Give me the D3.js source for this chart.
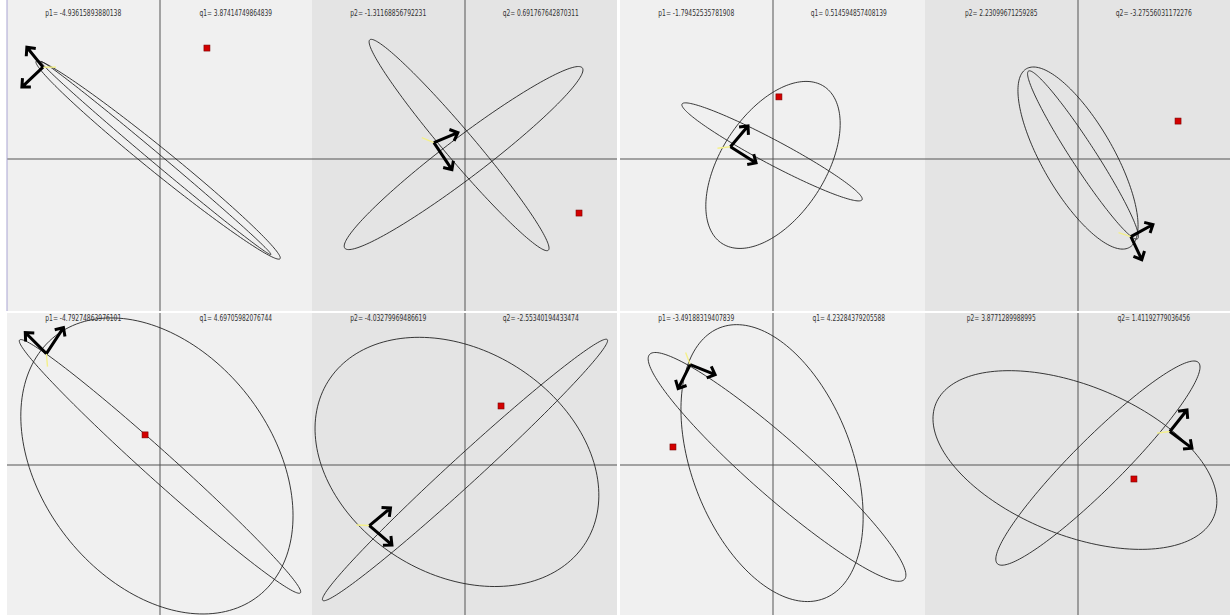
<!DOCTYPE html>
<html>
<head>
<meta charset="utf-8">
<script src="https://cdn.jsdelivr.net/npm/d3@7"></script>
<style>
	body{margin:0;background:#fff;}
	svg{display:block;}
	.axis-line{stroke:#555;stroke-width:1;}
	.ellipse{fill:none;stroke:#222;stroke-width:0.9;}
	.arrow{fill:none;stroke:#000;stroke-width:3;stroke-linejoin:miter;stroke-linecap:butt;}
	.label{font-family:"DejaVu Sans Condensed","Liberation Sans",sans-serif;font-size:8.5px;fill:#333;text-anchor:middle;}
	.target{fill:#d40000;stroke:#7a0000;stroke-width:0.6;}
</style>
</head>
<body>
<div id="plot"></div>
<script>
//values; the panel origin (p,q) is printed above each panel
var P_NAMES = ['p1','p2','p1','p2','p1','p2','p1','p2'],
	Q_NAMES = ['q1','q2','q1','q2','q1','q2','q1','q2'];
var pVals = [-4.93615893880138,-1.31168856792231,-1.79452535781908,2.23099671259285,-4.79274863976101,-4.03279969486619,-3.49188319407839,3.8771289988995],
	qVals = [3.87414749864839,0.691767642870311,0.514594857408139,-3.27556031172276,4.69705982076744,-2.55340194433474,4.23284379205588,1.41192779036456];

//red target point of each panel
var targets = [[1.98,4.68],[4.81,-2.28],[0.25,2.62],[4.22,1.60],[-0.63,1.27],[1.52,2.49],[-4.22,0.76],[2.36,-0.59]];

//the two arrow directions drawn from (p,q)
var arrowsU = [[-0.68,0.84],[1.01,0.42],[0.74,0.88],[0.93,0.51],[-0.89,0.89],[0.89,0.74],[1.05,-0.42],[0.72,0.91]],
	arrowsV = [[-0.89,-0.84],[0.76,-1.14],[1.08,-0.68],[0.46,-0.97],[0.72,1.10],[0.95,-0.82],[-0.51,-1.01],[0.93,-0.70]];

//ellipses: [cx, cy, semi-major, semi-minor, rotation deg]
var ellipses = [
	[[-0.08,-0.04,6.62,0.51,-39],[-0.17,0.04,6.33,0.21,-40]],
	[[-0.25,0.59,5.82,0.63,-49.7],[-0.06,0.04,6.29,0.84,37.2]],
	[[0,-0.25,3.95,2.2,57],[-0.04,0.30,4.30,0.51,-28]],
	[[0,0.04,4.35,1.5,-60],[0.21,0.17,4.22,0.51,-57]],
	[[-0.13,-0.04,6.96,4.85,-52],[0,-0.06,7.97,0.59,-42]],
	[[-0.34,0.13,6.41,4.73,-32],[0,-0.21,8.14,0.59,42.5]],
	[[-0.04,0.08,6.12,3.38,-69],[0.17,-0.08,7.17,1.2,-41.4]],
	[[-0.13,0.21,6.33,3.16,-22],[0.84,0.08,6.0,1.05,45]]
];

var DOMAIN = 6.45; //half-extent of each panel in model units

//Set up a drawing environment
var W = 1230, H = 615;
var colLeft = [7,312,620,925], colRight = [312,617,925,1230],
	rowTop = [0,313], rowBottom = [311,615],
	originX = [160,465,773,1078], originY = [159,465];

var svg = d3.select('#plot').append('svg')
	.attr('width',W)
	.attr('height',H);

svg.append('rect').attr('width',W).attr('height',H).attr('fill','#fff');

var defs = svg.append('defs');

d3.range(8).forEach(function(i){
	var col = i%4, row = Math.floor(i/4),
		x0 = colLeft[col], x1 = colRight[col],
		y0 = rowTop[row], y1 = rowBottom[row],
		ox = originX[col], oy = originY[row],
		half = 152.9;

	var scaleX = d3.scaleLinear().domain([-DOMAIN,DOMAIN]).range([ox-half,ox+half]),
		scaleY = d3.scaleLinear().domain([-DOMAIN,DOMAIN]).range([oy+half,oy-half]);

	defs.append('clipPath').attr('id','clip'+i)
		.append('rect').attr('x',x0).attr('y',y0).attr('width',x1-x0).attr('height',y1-y0);

	var panel = svg.append('g').attr('class','panel').attr('clip-path','url(#clip'+i+')');

	panel.append('rect')
		.attr('x',x0).attr('y',y0)
		.attr('width',x1-x0).attr('height',y1-y0)
		.attr('fill', col%2===0 ? '#f0f0f0' : '#e4e4e4');

	//axes through the origin
	panel.append('line').attr('class','axis-line')
		.attr('x1',scaleX(0)).attr('x2',scaleX(0))
		.attr('y1',y0).attr('y2',y1);
	panel.append('line').attr('class','axis-line')
		.attr('x1',x0).attr('x2',x1)
		.attr('y1',scaleY(0)).attr('y2',scaleY(0));

	//ellipses
	var line = d3.line()
		.x(function(d){return scaleX(d[0])})
		.y(function(d){return scaleY(d[1])})
		.curve(d3.curveLinearClosed);

	panel.selectAll('.ellipse')
		.data(ellipses[i])
		.enter()
		.append('path').attr('class','ellipse')
		.attr('d',function(e){
			var th = e[4]*Math.PI/180;
			var pts = d3.range(0,Math.PI*2,Math.PI/90).map(function(t){
				return [
					e[0] + e[2]*Math.cos(t)*Math.cos(th) - e[3]*Math.sin(t)*Math.sin(th),
					e[1] + e[2]*Math.cos(t)*Math.sin(th) + e[3]*Math.sin(t)*Math.cos(th)
				];
			});
			return line(pts);
		});

	//red target
	panel.append('rect').attr('class','target')
		.attr('x',scaleX(targets[i][0])-3)
		.attr('y',scaleY(targets[i][1])-3)
		.attr('width',6).attr('height',6);

	//faint helper strokes at (p,q)
	var p = pVals[i], q = qVals[i],
		u = arrowsU[i], v = arrowsV[i];
	var s = [-(u[0]+v[0]), -(u[1]+v[1])], sl = Math.sqrt(s[0]*s[0]+s[1]*s[1]);
	var helpers = [
		{d:[u[0]*0.55,u[1]*0.55], c:'#e86a6a', dash:'2,1'},
		{d:[v[0]*0.55,v[1]*0.55], c:'#58d058', dash:null},
		{d:[s[0]/sl*0.55,s[1]/sl*0.55], c:'#f4f08a', dash:null}
	];
	panel.selectAll('.helper')
		.data(helpers)
		.enter()
		.append('line').attr('class','helper')
		.attr('x1',scaleX(p)).attr('y1',scaleY(q))
		.attr('x2',function(h){return scaleX(p+h.d[0])})
		.attr('y2',function(h){return scaleY(q+h.d[1])})
		.attr('stroke',function(h){return h.c})
		.attr('stroke-width',1.4)
		.attr('stroke-dasharray',function(h){return h.dash});

	//arrows
	panel.selectAll('.arrow')
		.data([u,v])
		.enter()
		.append('path').attr('class','arrow')
		.attr('d',function(a){
			var sx = scaleX(p), sy = scaleY(q),
				tx = scaleX(p+a[0]), ty = scaleY(q+a[1]);
			var ang = Math.atan2(ty-sy,tx-sx), hl = 9, spread = Math.PI/4.2;
			var lx = tx - hl*Math.cos(ang-spread), ly = ty - hl*Math.sin(ang-spread),
				rx = tx - hl*Math.cos(ang+spread), ry = ty - hl*Math.sin(ang+spread);
			return 'M'+sx+','+sy+'L'+tx+','+ty+'M'+lx+','+ly+'L'+tx+','+ty+'L'+rx+','+ry;
		});

	//labels, squeezed to the narrow width of the original font
	var ty = row===0 ? 16 : 321;
	[[P_NAMES[i]+'= '+p, 1/4],[Q_NAMES[i]+'= '+q, 3/4]].forEach(function(l){
		panel.append('text').attr('class','label')
			.attr('x',x0+(x1-x0)*l[1]).attr('y',ty)
			.attr('textLength',l[0].length*3.62)
			.attr('lengthAdjust','spacingAndGlyphs')
			.text(l[0]);
	});
});

//thin frame on the left of the first screenshot
svg.append('line')
	.attr('x1',7).attr('x2',7).attr('y1',0).attr('y2',311)
	.attr('stroke','#a9a4d2').attr('stroke-width',1);
</script>
</body>
</html>
